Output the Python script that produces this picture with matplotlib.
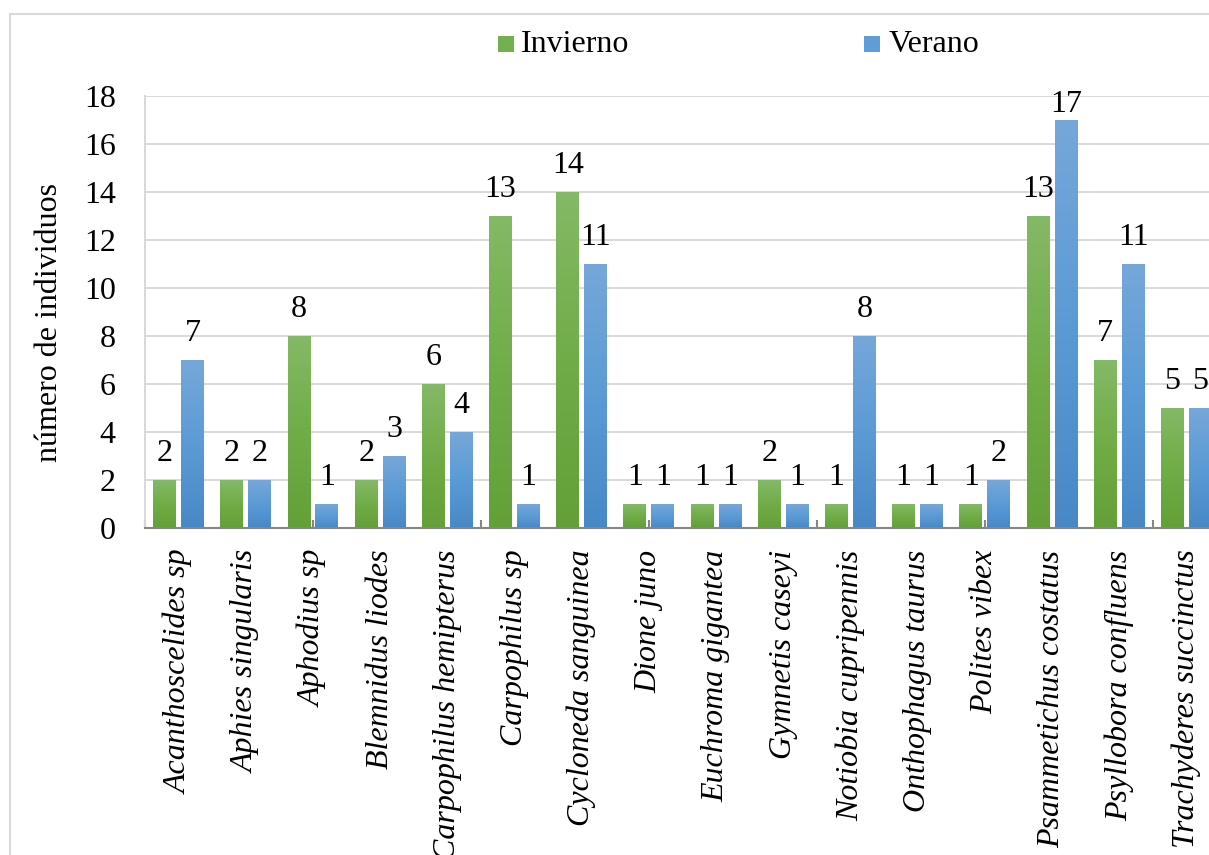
import numpy as np
import matplotlib
matplotlib.use("Agg")
import matplotlib.pyplot as plt
from matplotlib.colors import LinearSegmentedColormap
from matplotlib.patches import Rectangle
from matplotlib.lines import Line2D

plt.rcParams['font.family'] = ['Liberation Serif', 'DejaVu Serif']

species = [
    "Acanthoscelides sp", "Aphies singularis", "Aphodius sp", "Blemnidus liodes",
    "Carpophilus hemipterus", "Carpophilus sp", "Cycloneda sanguinea", "Dione juno",
    "Euchroma gigantea", "Gymnetis caseyi", "Notiobia cupripennis", "Onthophagus taurus",
    "Polites vibex", "Psammetichus costatus", "Psyllobora confluens", "Trachyderes succinctus",
]
invierno = [2, 2, 8, 2, 6, 13, 14, 1, 1, 2, 1, 1, 1, 13, 7, 5]
verano = [7, 2, 1, 3, 4, 1, 11, 1, 1, 1, 8, 1, 2, 17, 11, 5]
series_names = ["Invierno", "Verano"]
y_ticks = [0, 2, 4, 6, 8, 10, 12, 14, 16, 18]

W, H = 1209, 855
fig = plt.figure(figsize=(W / 100, H / 100), dpi=100)
fig.patch.set_facecolor("white")

# chart-area border (left and top edges visible)
fig.add_artist(Line2D([10 / W, 10 / W], [0, 1 - 14 / H], color="#d9d9d9", lw=1.5))
fig.add_artist(Line2D([10 / W, 1], [1 - 14 / H, 1 - 14 / H], color="#d9d9d9", lw=1.5))

left, right, top, bottom = 145, 1220, 96, 528
ax = fig.add_axes([left / W, 1 - bottom / H, (right - left) / W, (bottom - top) / H])

green_cmap = LinearSegmentedColormap.from_list("g", ["#63a038", "#70ad47", "#84b966"])
blue_cmap = LinearSegmentedColormap.from_list("b", ["#4788c7", "#5b9bd5", "#76a7da"])

n = len(species)
x = np.arange(n)
bw = 0.342
gap = 0.074
grad = np.linspace(0, 1, 256).reshape(-1, 1)
ymax = 18
label_off = 0.79          # gap between bar top and label baseline (data units)
label_top_limit = ymax - 0.67  # keep labels inside the plot area

for vals, cmap, off in [(invierno, green_cmap, -(bw + gap) / 2),
                        (verano, blue_cmap, (bw + gap) / 2)]:
    bars = ax.bar(x + off, vals, width=bw, color="none", edgecolor="none", zorder=2)
    for b, v in zip(bars, vals):
        x0 = b.get_x()
        ax.imshow(grad, cmap=cmap, origin="lower", aspect="auto",
                  extent=[x0, x0 + bw, 0, v], zorder=2, interpolation="bilinear")
        ax.text(x0 + bw / 2, min(v + label_off, label_top_limit), f"{v}",
                ha="center", va="baseline", fontsize=23, color="black", zorder=3)

ax.set_xlim(-0.5, n - 0.5)
ax.set_ylim(0, ymax)
ax.set_yticks(y_ticks)
ax.set_yticklabels([str(t) for t in y_ticks], fontsize=23)
ax.yaxis.grid(True, color="#d9d9d9", lw=1.4, zorder=0)
ax.set_axisbelow(True)
ax.tick_params(axis="y", length=0, pad=21)

# minor ticks along category axis every 2.5 categories
ax.set_xticks(np.arange(-0.5, n, 2.5), minor=True)
ax.set_xticks([])
ax.tick_params(axis="x", which="minor", direction="in", length=6, width=1.5, color="#868686")
for xi, name in zip(x, species):
    ax.text(xi, -0.9, name, rotation=90, ha="center", va="top", fontsize=23,
            style="italic", color="black", clip_on=False)

for s in ["top", "right"]:
    ax.spines[s].set_visible(False)
ax.spines["left"].set_color("#d9d9d9")
ax.spines["left"].set_linewidth(1.4)
ax.spines["bottom"].set_color("#868686")
ax.spines["bottom"].set_linewidth(1.5)

fig.text(50 / W, 1 - 323 / H, "número de individuos", rotation=90, ha="center", va="center",
         fontsize=23)

# legend
leg_colors = ["#74b04d", "#5f9dd6"]
leg_pos = [(498, 521), (864, 889)]
for name, c, (sx, tx) in zip(series_names, leg_colors, leg_pos):
    fig.add_artist(Rectangle((sx / W, 1 - 52 / H), 16 / W, 16 / H, transform=fig.transFigure,
                             facecolor=c, edgecolor="none"))
    fig.text(tx / W, 1 - 52 / H, name, ha="left", va="baseline", fontsize=23)

fig.savefig("out.png", dpi=100)
